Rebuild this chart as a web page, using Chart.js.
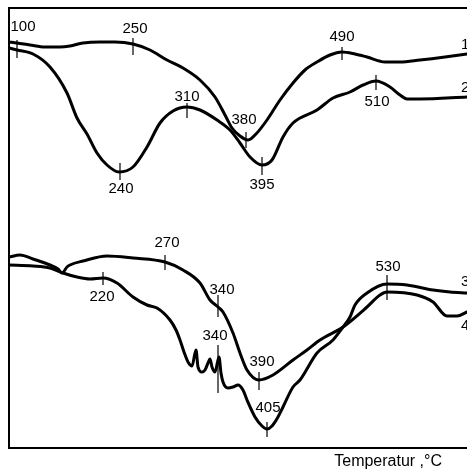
<!DOCTYPE html>
<html>
<head>
<meta charset="utf-8">
<title>DTA</title>
<script src="https://cdn.jsdelivr.net/npm/chart.js@4.4.1/dist/chart.umd.min.js"></script>
<style>
  html, body { margin: 0; padding: 0; background: #fff; }
</style>
</head>
<body>
<canvas id="dta" width="467" height="469"></canvas>
<script>
// DTA-Kurven, x = Skalenteil entlang der Temperaturachse, y = Ausschlag (willkürliche Einheiten)
const curve1 = [[0,406],[8,405],[21,403],[36,401],[51,401],[61,402],[74,405],[91,406],[106,406],[124,404],
  [141,398],[158,388],[174,380],[191,368],[206,351],[216,333],[223,320],[231,312],[239,308],[247,314],
  [258,328],[271,348],[284,365],[296,378],[308,386],[321,393],[333,396],[346,394],[358,391],[376,386],
  [391,386],[411,388],[436,391],[458,394]];

const curve2 = [[0,400],[8,398],[24,394],[41,381],[58,355],[68,330],[78,314],[88,295],[98,283],[110,276],
  [124,281],[138,301],[151,325],[164,337],[178,341],[191,338],[208,328],[221,318],[231,305],[241,291],
  [253,283],[263,288],[274,311],[284,325],[308,338],[324,350],[341,356],[354,363],[367,367],[381,361],
  [391,353],[398,349],[411,349],[458,351]];

const curve3 = [[0,183],[24,182],[41,180],[54,175],[68,171],[81,169],[94,170],[108,165],[124,151],[138,143],
  [148,140],[161,128],[167,118],[171,108],[175,96],[179,86],[183,82],[187,98],[189,81],[193,76],
  [196,78],[199,85],[201,89],[203,81],[206,76],[210,91],[212,75],[214,66],[219,60],[224,61],
  [229,63],[234,58],[238,48],[246,31],[253,22],[258,19],[263,22],[269,31],[274,41],[284,61],
  [291,68],[308,95],[324,108],[334,121],[341,131],[346,143],[358,155],[378,164],[398,163],[424,158],
  [441,156],[458,155]];

const curve4 = [[0,191],[11,193],[24,189],[41,183],[49,179],[53,175],[58,181],[61,183],[74,187],[98,192],
  [124,190],[156,186],[174,178],[191,165],[201,148],[209,141],[214,136],[224,115],[231,95],[238,78],
  [250,68],[264,73],[284,88],[298,98],[311,108],[334,121],[358,141],[371,153],[378,156],[408,153],
  [424,146],[438,132],[448,132],[458,136]];

const curveNames = ['1', '2', '3', '4'];

// Peak temperatures in °C and the point on the curve they mark
const peakTemp = [100, 250, 380, 490, 240, 310, 395, 510, 270, 340, 390, 220, 340, 405, 530];
const peakX = [8, 124, 237, 333, 111, 178, 253, 367, 156, 209, 250, 94, 209, 258, 378];
const peakY = [405, 404, 309, 396, 276, 341, 283, 367, 186, 141, 68, 170, 90, 19, 164];

// styling of the peak marks (pixels)
const tickUp = [3, 6, 7, 5, 9, 4, 8, 6, 7, 12, 8, 6, 13, 7, 9];
const tickDown = [15, 11, 9, 8, 8, 11, 10, 9, 8, 10, 10, 7, 35, 8, 16];
const labelDx = [6, 2, -2, 0, 1, 0, 0, 1, 2, 4, 3, -1, -3, 1, 1];
const labelDy = [-16, -15, -19, -15, 17, -10, 20, 21, -19, -17, -18, 19, -22, -21, -17];
const nameDx = [-6, -6, -6, -6];
const nameDy = [-9, -9, -11, 14];

const toPoints = (arr) => arr.map(p => ({ x: p[0], y: p[1] }));

const peakMarks = {
  id: 'peakMarks',
  afterDatasetsDraw(chart) {
    const ctx = chart.ctx;
    const xs = chart.scales.x;
    const ys = chart.scales.y;
    ctx.save();
    ctx.strokeStyle = '#000';
    ctx.fillStyle = '#000';
    ctx.lineWidth = 1.2;
    ctx.font = '15px "Liberation Sans", Arial, sans-serif';
    ctx.textAlign = 'center';
    ctx.textBaseline = 'middle';
    for (let i = 0; i < peakTemp.length; i++) {
      const px = xs.getPixelForValue(peakX[i]);
      const py = ys.getPixelForValue(peakY[i]);
      ctx.beginPath();
      ctx.moveTo(px, py - tickUp[i]);
      ctx.lineTo(px, py + tickDown[i]);
      ctx.stroke();
      ctx.fillText(String(peakTemp[i]), px + labelDx[i], py + labelDy[i]);
    }
    // Kurvennummern am rechten Ende
    ctx.textAlign = 'left';
    chart.data.datasets.forEach((ds, i) => {
      const last = ds.data[ds.data.length - 1];
      const px = xs.getPixelForValue(last.x);
      const py = ys.getPixelForValue(last.y);
      ctx.fillText(curveNames[i], px + nameDx[i], py + nameDy[i]);
    });
    // Achsenbeschriftung
    ctx.font = '16px "Liberation Sans", Arial, sans-serif';
    ctx.textAlign = 'right';
    ctx.fillText('Temperatur ,°C', chart.chartArea.right - 25, chart.chartArea.bottom + 14);
    ctx.restore();
  }
};

function lineSet(label, pts) {
  return {
    label: label,
    data: toPoints(pts),
    borderColor: '#000',
    borderWidth: 3,
    pointRadius: 0,
    fill: false,
    cubicInterpolationMode: 'monotone',
    borderJoinStyle: 'round',
    borderCapStyle: 'round'
  };
}

const frame = { display: true, color: '#000', width: 2 };

new Chart(document.getElementById('dta'), {
  type: 'line',
  data: {
    datasets: [
      lineSet(curveNames[0], curve1),
      lineSet(curveNames[1], curve2),
      lineSet(curveNames[2], curve3),
      lineSet(curveNames[3], curve4)
    ]
  },
  options: {
    responsive: false,
    animation: false,
    devicePixelRatio: 1,
    layout: { padding: { left: 9, top: 8, right: 0, bottom: 21 } },
    plugins: {
      legend: { display: false },
      tooltip: { enabled: false }
    },
    scales: {
      x: {
        type: 'linear', min: 0, max: 458,
        ticks: { display: false },
        grid: { display: false, drawTicks: false },
        border: frame
      },
      xTop: {
        axis: 'x', type: 'linear', position: 'top', min: 0, max: 458,
        ticks: { display: false },
        grid: { display: false, drawTicks: false },
        border: frame
      },
      y: {
        type: 'linear', min: 0, max: 440,
        ticks: { display: false },
        grid: { display: false, drawTicks: false },
        border: frame
      }
    }
  },
  plugins: [peakMarks]
});
</script>
</body>
</html>
